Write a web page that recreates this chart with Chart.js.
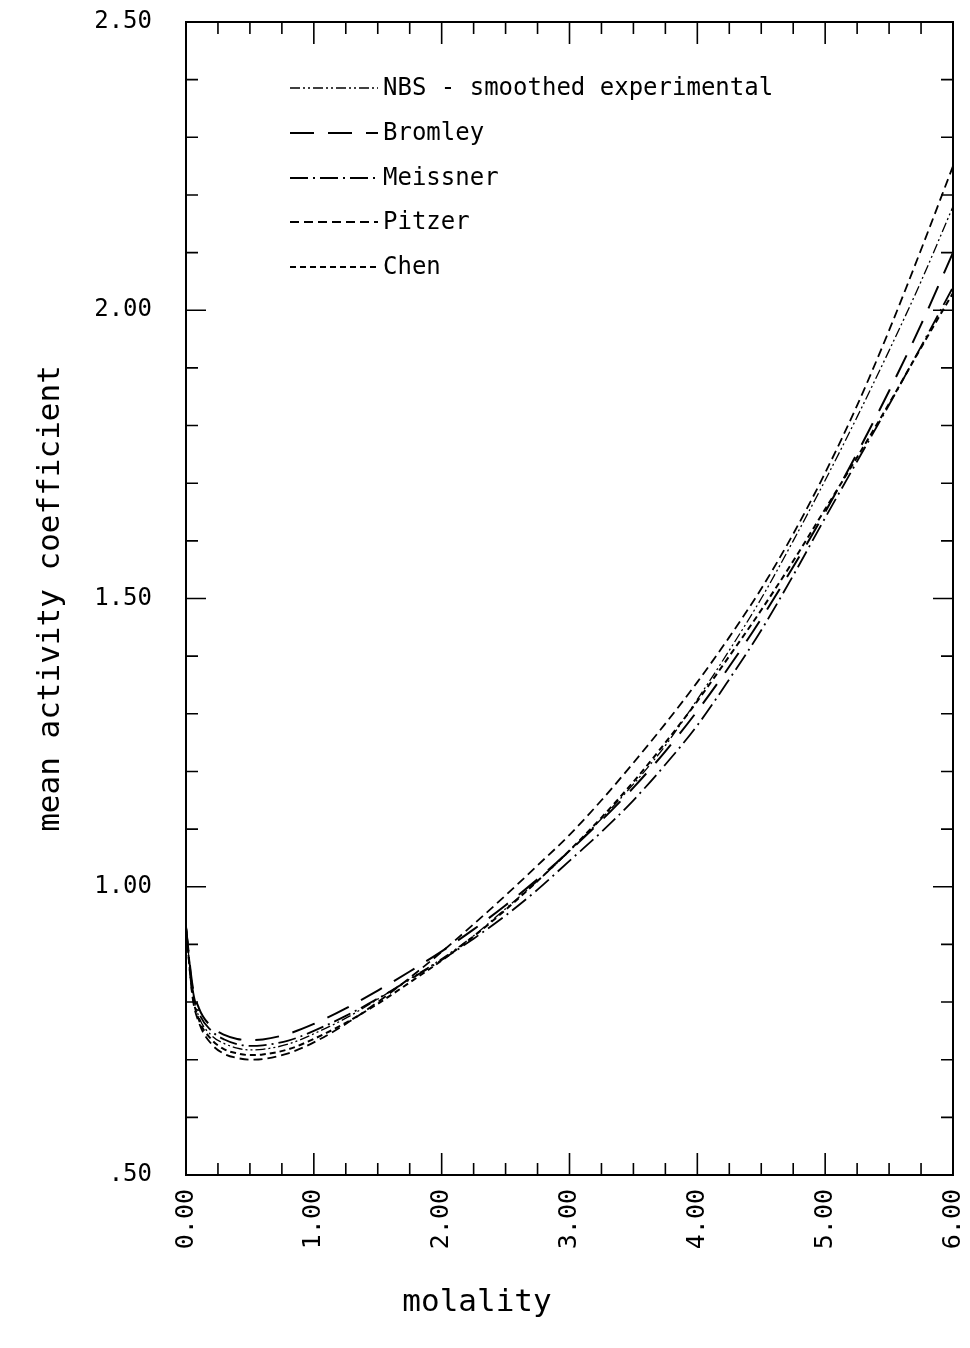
<!DOCTYPE html>
<html>
<head>
<meta charset="utf-8">
<script src="https://cdn.jsdelivr.net/npm/chart.js@4.4.1/dist/chart.umd.min.js"></script>
<style>
  body { margin: 0; background: #fff; }
  #wrap { width: 970px; height: 1348px; }
</style>
</head>
<body>
<div id="wrap"><canvas id="gammaChart" width="970" height="1348"></canvas></div>
<script>
// molality grid and curves
const molality = [0, 0.05, 0.1, 0.2, 0.3, 0.4, 0.5, 0.6, 0.8, 1.0, 1.25, 1.5, 1.75, 2.0, 2.25, 2.5, 2.75, 3.0, 3.25, 3.5, 3.75, 4.0, 4.25, 4.5, 4.75, 5.0, 5.25, 5.5, 5.75, 6.0];
const nbs      = [0.93, 0.82, 0.775, 0.742, 0.728, 0.720, 0.717, 0.718, 0.727, 0.745, 0.772, 0.805, 0.840, 0.875, 0.915, 0.962, 1.010, 1.062, 1.118, 1.178, 1.245, 1.325, 1.410, 1.500, 1.600, 1.705, 1.815, 1.930, 2.050, 2.180];
const bromley  = [0.93, 0.83, 0.790, 0.757, 0.743, 0.736, 0.734, 0.735, 0.745, 0.762, 0.789, 0.820, 0.853, 0.888, 0.926, 0.968, 1.013, 1.062, 1.115, 1.172, 1.235, 1.305, 1.382, 1.465, 1.555, 1.650, 1.752, 1.860, 1.975, 2.100];
const meissner = [0.93, 0.825, 0.782, 0.750, 0.735, 0.727, 0.724, 0.725, 0.733, 0.750, 0.776, 0.806, 0.839, 0.873, 0.910, 0.950, 0.995, 1.045, 1.095, 1.150, 1.212, 1.280, 1.360, 1.445, 1.540, 1.640, 1.738, 1.836, 1.937, 2.040];
const pitzer   = [0.93, 0.81, 0.765, 0.727, 0.710, 0.703, 0.700, 0.701, 0.711, 0.730, 0.762, 0.800, 0.842, 0.887, 0.935, 0.985, 1.037, 1.090, 1.150, 1.215, 1.283, 1.355, 1.433, 1.517, 1.612, 1.718, 1.835, 1.965, 2.105, 2.250];
const chen     = [0.93, 0.815, 0.770, 0.735, 0.718, 0.711, 0.708, 0.709, 0.718, 0.736, 0.764, 0.797, 0.834, 0.872, 0.914, 0.960, 1.010, 1.063, 1.120, 1.182, 1.250, 1.322, 1.400, 1.480, 1.565, 1.655, 1.745, 1.838, 1.935, 2.030];

const seriesNames = ['NBS - smoothed experimental', 'Bromley', 'Meissner', 'Pitzer', 'Chen'];
const seriesData = [nbs, bromley, meissner, pitzer, chen];
const dashes = [[10, 3, 2, 3, 2, 3], [24, 14], [18, 5, 2, 5], [9, 5], [6, 4]];
const widths = [1.3, 2, 1.8, 1.8, 2];

const FONT = '"DejaVu Sans Mono", "Liberation Mono", monospace';

const boxTicks = {
    id: 'boxTicks',
    afterDraw(chart) {
        const { ctx, chartArea: a, scales: { x, y } } = chart;
        ctx.save();
        ctx.strokeStyle = '#000';
        ctx.lineWidth = 2;
        ctx.setLineDash([]);
        ctx.strokeRect(a.left, a.top, a.right - a.left, a.bottom - a.top);

        ctx.lineWidth = 1.6;
        ctx.beginPath();
        // x ticks every 0.25, longer at whole numbers (bottom and top)
        for (let i = 1; i < 24; i++) {
            const px = x.getPixelForValue(i * 0.25);
            const len = i % 4 === 0 ? 22 : 12;
            ctx.moveTo(px, a.bottom); ctx.lineTo(px, a.bottom - len);
            ctx.moveTo(px, a.top); ctx.lineTo(px, a.top + len);
        }
        // y ticks every 0.1 on both sides
        for (let i = 1; i < 20; i++) {
            const py = y.getPixelForValue(0.5 + i * 0.1);
            const len = i % 5 === 0 ? 20 : 12;
            ctx.moveTo(a.left, py); ctx.lineTo(a.left + len, py);
            ctx.moveTo(a.right, py); ctx.lineTo(a.right - len, py);
        }
        ctx.stroke();

        // legend block
        const rows = [88, 133, 178, 222, 267];
        ctx.font = '24px ' + FONT;
        ctx.fillStyle = '#000';
        ctx.textBaseline = 'middle';
        seriesNames.forEach((name, i) => {
            ctx.lineWidth = widths[i];
            ctx.setLineDash(dashes[i]);
            ctx.beginPath();
            ctx.moveTo(290, rows[i]);
            ctx.lineTo(378, rows[i]);
            ctx.stroke();
            ctx.fillText(name, 383, rows[i] + 1);
        });

        // x axis title sits left of the plot centre in the original
        ctx.font = '31px ' + FONT;
        ctx.textAlign = 'center';
        ctx.fillText('molality', 477, 1303);
        ctx.restore();
    }
};

new Chart(document.getElementById('gammaChart'), {
    type: 'line',
    data: {
        datasets: seriesNames.map((name, i) => ({
            label: name,
            data: molality.map((m, j) => ({ x: m, y: seriesData[i][j] })),
            borderColor: '#000',
            borderWidth: widths[i],
            borderDash: dashes[i],
            pointRadius: 0,
            fill: false,
            cubicInterpolationMode: 'monotone'
        }))
    },
    options: {
        responsive: false,
        animation: false,
        layout: { padding: { left: 0, right: 17, top: 22, bottom: 0 } },
        plugins: { legend: { display: false }, tooltip: { enabled: false } },
        scales: {
            x: {
                type: 'linear',
                min: 0, max: 6,
                grid: { display: false, drawTicks: false },
                border: { display: false },
                ticks: {
                    stepSize: 1,
                    maxRotation: 90, minRotation: 90,
                    padding: 14,
                    color: '#000',
                    font: { family: FONT, size: 25 },
                    callback: v => v.toFixed(2)
                },
                afterFit(scale) {
                    scale.height = 173;
                    scale.paddingLeft = 0;
                    scale.paddingRight = 0;
                }
            },
            y: {
                min: 0.5, max: 2.5,
                grid: { display: false, drawTicks: false },
                border: { display: false },
                ticks: {
                    stepSize: 0.5,
                    padding: 34,
                    color: '#000',
                    font: { family: FONT, size: 24 },
                    callback: v => (v === 0.5 ? '.50' : v.toFixed(2))
                },
                title: {
                    display: true,
                    text: 'mean activity coefficient',
                    color: '#000',
                    font: { family: FONT, size: 31 },
                    padding: { top: 32, bottom: 0 }
                },
                afterFit(scale) {
                    scale.width = 186;
                    scale.paddingTop = 0;
                    scale.paddingBottom = 0;
                }
            }
        }
    },
    plugins: [boxTicks]
});
</script>
</body>
</html>
